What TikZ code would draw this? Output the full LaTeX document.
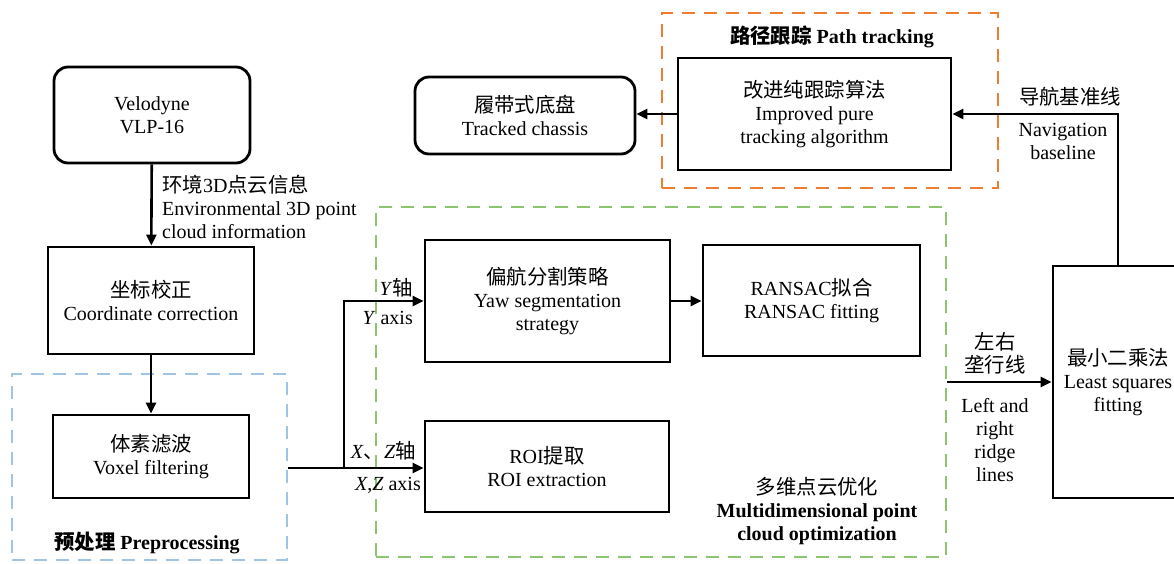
\documentclass[tikz,border=0pt]{standalone}
\usepackage{fontspec}
\setmainfont{Liberation Serif}
\newfontfamily\cjk{Noto Sans CJK SC}[Scale=1.02]
\newcommand\zhtext[1]{{\cjk #1}}
\usetikzlibrary{arrows.meta}
\definecolor{preblue}{RGB}{160,196,228}
\definecolor{optgreen}{RGB}{140,196,112}
\definecolor{trackorange}{RGB}{237,125,49}
\begin{document}
\begin{tikzpicture}[x=1pt,y=-1pt,
  every node/.style={font=\fontsize{20}{23}\selectfont},
  box/.style={draw, line width=2.8pt, align=center, inner sep=0pt},
  rbox/.style={box, rounded corners=14pt},
  region/.style={draw, line width=2.6pt, dash pattern=on 13pt off 9pt, inner sep=0pt},
  conn/.style={line width=2.6pt},
  arr/.style={conn, -{Triangle[length=11pt,width=10pt]}},
  lbl/.style={inner sep=0pt, align=center},
  title/.style={lbl, font=\fontsize{20}{23}\selectfont\bfseries}]
\useasboundingbox (0,0) rectangle (1174,563);

% dashed groups
\node[region, draw=preblue, minimum width=275pt, minimum height=186pt] (pre) at (149.5,467) {};
\node[region, draw=optgreen, minimum width=570pt, minimum height=350pt] (multi) at (661,382) {};
\node[region, draw=trackorange, minimum width=336pt, minimum height=175pt] (track) at (830,100.5) {};

% group titles
\node[title] (pretitle) at (147,543) {\zhtext{预处理} Preprocessing};
\node[title] (tracktitle) at (832,37) {\zhtext{路径跟踪} Path tracking};
\node[lbl, anchor=north] (multititle) at (817,477) {\zhtext{多维点云优化}\\ \textbf{Multidimensional point}\\ \textbf{cloud optimization}};

% processing boxes
\node[rbox, minimum width=196pt, minimum height=96pt] (vel) at (152,115) {Velodyne\\VLP-16};
\node[box, minimum width=206pt, minimum height=107pt] (cc) at (151,300.5) {\zhtext{坐标校正}\\Coordinate correction};
\node[box, minimum width=196pt, minimum height=83pt] (vox) at (151,456.5) {\zhtext{体素滤波}\\Voxel filtering};
\node[box, minimum width=245pt, minimum height=122pt] (yaw) at (547.5,301) {\zhtext{偏航分割策略}\\Yaw segmentation\\strategy};
\node[box, minimum width=217pt, minimum height=111pt] (ran) at (811.5,300.5) {RANSAC\zhtext{拟合}\\RANSAC fitting};
\node[box, minimum width=244pt, minimum height=91pt] (roi) at (547,466.5) {ROI\zhtext{提取}\\ROI extraction};
\node[box, minimum width=130pt, minimum height=232pt] (ls) at (1118,382) {\zhtext{最小二乘法}\\Least squares\\fitting};
\node[box, minimum width=273pt, minimum height=112pt] (pt) at (814.5,114) {\zhtext{改进纯跟踪算法}\\Improved pure\\tracking algorithm};
\node[rbox, minimum width=220pt, minimum height=77pt] (ch) at (525,115.5) {\zhtext{履带式底盘}\\Tracked chassis};

% connectors
\draw[arr] (vel) -- (cc);
\draw[arr] (cc) -- (vox);
\coordinate (split) at (344,468);
\draw[conn] (pre.east |- split) -- (split);
\draw[arr] (split) -- (roi.west |- split);
\draw[arr] (split) |- (yaw.west);
\draw[arr] (yaw.east) -- (ran.west |- yaw.east);
\draw[arr] (multi.east |- ls.west) -- (ls.west);
\draw[arr] (ls.north) |- (pt.east);
\draw[arr] (pt.west) -- (ch.east |- pt.west);

% connector labels
\node[lbl, anchor=west, align=left] (envlbl) at (162,207) {\zhtext{环境}3D\zhtext{点云信息}\\Environmental 3D point\\cloud information};
\node[lbl, anchor=east] (ycn) at (413,288) {\textit{Y}\zhtext{轴}};
\node[lbl, anchor=east] (yen) at (413,318) {\textit{Y} axis};
\node[lbl, anchor=east] (xzcn) at (416,451) {\textit{X}\zhtext{、}\textit{Z}\zhtext{轴}};
\node[lbl, anchor=east] (xzen) at (421,485) {\textit{X},\textit{Z} axis};
\node[lbl] (navcn) at (1070,97) {\zhtext{导航基准线}};
\node[lbl] (naven) at (1063,141) {Navigation\\baseline};
\node[lbl] (ridgecn) at (995,353) {\zhtext{左右}\\\zhtext{垄行线}};
\node[lbl] (ridgeen) at (995,440) {Left and\\right\\ridge\\lines};
\end{tikzpicture}
\end{document}
